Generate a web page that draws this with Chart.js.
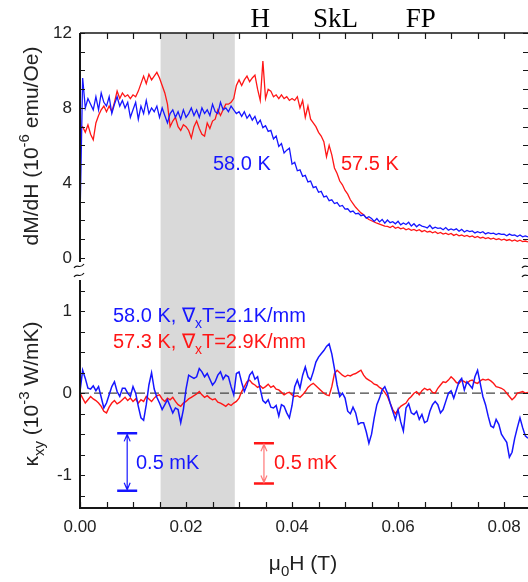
<!DOCTYPE html>
<html>
<head>
<meta charset="utf-8">
<script src="https://cdn.jsdelivr.net/npm/chart.js@4.4.1/dist/chart.umd.min.js"></script>
<style>
  html, body { margin: 0; padding: 0; background: #fff; overflow: hidden; }
  #wrap { position: relative; width: 528px; height: 582px; overflow: hidden; }
  canvas { position: absolute; left: 0; top: 0; }
</style>
</head>
<body>
<div id="wrap">
  <canvas id="topChart" width="540" height="582"></canvas>
  <canvas id="botChart" width="540" height="582"></canvas>
</div>
<script>
// field grid (mT), every 0.5 mT
const fieldMT = [
  0, 0.5, 1, 1.5, 2, 2.5, 3, 3.5, 4, 4.5,
  5, 5.5, 6, 6.5, 7, 7.5, 8, 8.5, 9, 9.5,
  10, 10.5, 11, 11.5, 12, 12.5, 13, 13.5, 14, 14.5,
  15, 15.5, 16, 16.5, 17, 17.5, 18, 18.5, 19, 19.5,
  20, 20.5, 21, 21.5, 22, 22.5, 23, 23.5, 24, 24.5,
  25, 25.5, 26, 26.5, 27, 27.5, 28, 28.5, 29, 29.5,
  30, 30.5, 31, 31.5, 32, 32.5, 33, 33.5, 34, 34.5,
  35, 35.5, 36, 36.5, 37, 37.5, 38, 38.5, 39, 39.5,
  40, 40.5, 41, 41.5, 42, 42.5, 43, 43.5, 44, 44.5,
  45, 45.5, 46, 46.5, 47, 47.5, 48, 48.5, 49, 49.5,
  50, 50.5, 51, 51.5, 52, 52.5, 53, 53.5, 54, 54.5,
  55, 55.5, 56, 56.5, 57, 57.5, 58, 58.5, 59, 59.5,
  60, 60.5, 61, 61.5, 62, 62.5, 63, 63.5, 64, 64.5,
  65, 65.5, 66, 66.5, 67, 67.5, 68, 68.5, 69, 69.5,
  70, 70.5, 71, 71.5, 72, 72.5, 73, 73.5, 74, 74.5,
  75, 75.5, 76, 76.5, 77, 77.5, 78, 78.5, 79, 79.5,
  80, 80.5, 81, 81.5, 82, 82.5, 83, 83.5, 84, 84.5
];

// dM/dH (10^-6 emu/Oe)
const dmdh58 = [
  2.0, 9.6, 8.0, 8.5, 8.2, 7.9, 8.6, 7.9, 8.8, 8.3,
  8.1, 8.6, 7.7, 8.2, 8.6, 8.1, 8.4, 8.0, 8.3, 7.5,
  7.9, 8.3, 7.4, 8.1, 7.7, 8.4, 7.7, 8.0, 7.8, 8.1,
  7.5, 8.0, 7.6, 7.2, 7.7, 7.9, 7.5, 7.8, 7.4, 7.9,
  7.5, 7.7, 8.0, 7.6, 7.9, 7.5, 8.0, 7.7, 7.9, 7.6,
  8.2, 7.8, 7.7, 8.3, 7.9, 8.0, 7.8, 8.1, 7.9, 7.7,
  7.8, 7.55, 7.8, 7.45, 7.65, 7.35, 7.55, 7.15, 7.35, 6.95,
  7.05, 6.75, 6.8, 6.35, 6.5, 5.95, 6.1, 5.6, 5.75, 5.85,
  5.0, 5.1, 4.65, 4.7, 4.35, 4.4, 4.05, 4.1, 3.75, 3.8,
  3.5, 3.55, 3.25, 3.3, 3.05, 3.1, 2.9, 2.95, 2.75, 2.8,
  2.6, 2.62, 2.45, 2.5, 2.35, 2.38, 2.25, 2.3, 2.12, 2.2,
  2.1, 1.95, 2.1, 1.92, 2.05, 1.85, 2.02, 1.88, 1.93, 1.82,
  1.95, 1.76, 1.86, 1.78, 1.9, 1.7, 1.82, 1.66, 1.78, 1.7,
  1.66, 1.6, 1.74, 1.56, 1.64, 1.58, 1.6, 1.5, 1.62, 1.48,
  1.54, 1.48, 1.55, 1.42, 1.52, 1.38, 1.46, 1.4, 1.44, 1.33,
  1.4, 1.34, 1.4, 1.28, 1.35, 1.3, 1.32, 1.24, 1.3, 1.25,
  1.26, 1.18, 1.27, 1.2, 1.22, 1.14, 1.22, 1.12, 1.17, 1.12
];
const dmdh575 = [
  6.9, 7.0, 6.7, 7.1, 6.6, 6.3, 7.2, 7.6, 7.9, 8.1,
  7.8, 8.1, 7.8, 8.3, 8.9, 8.5, 8.8, 8.6, 8.7, 8.5,
  8.7, 8.6, 8.9, 9.3, 9.7, 9.3, 9.8, 9.5, 9.7, 9.9,
  9.6, 9.2, 8.8, 8.2, 7.0, 7.3, 7.5, 7.0, 6.8, 7.1,
  7.0, 6.8, 6.4, 7.0, 7.3, 6.9, 6.6, 6.5, 7.2, 6.9,
  7.3, 7.4, 7.9, 7.6, 7.9, 8.2, 8.2, 8.3, 8.5, 9.2,
  9.5, 9.2, 9.5, 9.7, 9.4, 9.6, 9.75, 9.0, 8.4, 10.5,
  8.5, 9.0, 8.9, 8.6, 8.7, 8.5, 8.7, 8.5, 8.6, 8.4,
  8.5, 8.4, 8.6, 8.0, 8.4, 7.5, 8.1, 7.4, 7.2, 7.0,
  6.7, 6.5, 6.2, 5.4, 6.0, 5.5, 4.8, 4.5, 4.1, 3.9,
  3.6, 3.4, 3.1, 2.9, 2.7, 2.55, 2.4, 2.3, 2.15, 2.05,
  1.98, 1.92, 1.85, 1.8, 1.75, 1.7, 1.68, 1.62, 1.7, 1.58,
  1.64, 1.55, 1.6, 1.5, 1.56, 1.47, 1.52, 1.44, 1.5, 1.4,
  1.46, 1.38, 1.42, 1.34, 1.4, 1.3, 1.36, 1.27, 1.32, 1.24,
  1.3, 1.2, 1.26, 1.18, 1.22, 1.15, 1.2, 1.12, 1.17, 1.08,
  1.14, 1.06, 1.1, 1.03, 1.08, 1.0, 1.05, 0.98, 1.02, 0.95,
  1.0, 0.93, 0.98, 0.9, 0.96, 0.88, 0.94, 0.87, 0.9, 0.86
];

// kappa_xy (10^-3 W/mK)
const kxy58 = [
  0.02, 0.28, 0.18, 0.06, 0.05, 0.09, 0.03, 0.08, -0.05, -0.18,
  -0.12, -0.02, 0.08, 0.14, 0.02, -0.04, 0.06, 0.06, 0.0, -0.04,
  0.08, 0.0, -0.16, -0.3, -0.33, -0.14, 0.1, 0.25, 0.05, -0.05,
  -0.12, -0.2, -0.14, -0.08, -0.16, -0.24, -0.18, -0.2, -0.36, -0.2,
  0.05, 0.22, 0.2, 0.18, 0.2, 0.3, 0.26, 0.2, 0.24, 0.17,
  0.1, 0.14, 0.22, 0.26, 0.17, 0.22, 0.2, 0.08, -0.02, 0.24,
  0.26, 0.13, 0.02, 0.1, 0.22, 0.26, 0.17, 0.2, 0.05, -0.09,
  -0.12, -0.08, -0.17, -0.18, -0.15, -0.28, -0.14, -0.16, -0.24, -0.3,
  -0.15, 0.08, 0.16, 0.06, 0.22, 0.32, 0.2, 0.16, 0.26, 0.38,
  0.44, 0.48, 0.52, 0.57, 0.6, 0.48, 0.3, 0.1, -0.04, 0.0,
  -0.06, -0.22, -0.25, -0.17, -0.24, -0.38, -0.36, -0.36, -0.47, -0.61,
  -0.5, -0.3, -0.14, -0.06, 0.04, 0.08, 0.0, -0.12, -0.22, -0.32,
  -0.2, -0.35, -0.46, -0.18, -0.13, -0.24, -0.26, -0.22, -0.32, -0.26,
  -0.36, -0.34, -0.22, -0.14, -0.1, -0.14, -0.24, -0.2, -0.1, 0.0,
  0.03, -0.06, 0.04, 0.14, 0.18, 0.04, 0.14, 0.1, 0.06, 0.2,
  0.28, 0.12, -0.04, -0.14, -0.28, -0.4, -0.42, -0.32, -0.38, -0.5,
  -0.55, -0.6, -0.78, -0.72, -0.55, -0.42, -0.3, -0.42, -0.52, -0.55
];
const kxy573 = [
  0.0, -0.06, -0.12, -0.08, -0.04, -0.07, -0.09, -0.12, -0.16, -0.22,
  -0.24, -0.17, -0.12, -0.09, -0.13, -0.11, -0.08, -0.05, -0.09, -0.06,
  -0.1, -0.07, -0.12, -0.08, -0.1, -0.04, -0.07, -0.1, -0.06, -0.03,
  -0.02, -0.07, -0.1, -0.06, -0.08, -0.05, -0.1, -0.14, -0.16, -0.12,
  -0.1, -0.07, -0.05, -0.03, -0.01, 0.02, -0.02, -0.05, -0.03, -0.06,
  -0.08, -0.07, -0.11, -0.12, -0.14, -0.16, -0.13, -0.15, -0.12, -0.1,
  -0.06, 0.02, 0.08, 0.14, 0.16, 0.12, 0.1, 0.07, 0.09, 0.06,
  0.08, 0.11, 0.07, 0.09, 0.05, 0.04, 0.01, -0.02, 0.0, 0.01,
  -0.02, -0.04, -0.03, -0.05, -0.02, 0.02, 0.07, 0.1, 0.12, 0.09,
  0.06, 0.03, 0.0, -0.02, -0.03, 0.08, 0.24, 0.28, 0.25, 0.22,
  0.2, 0.22, 0.21, 0.23, 0.24, 0.26, 0.28, 0.22, 0.18, 0.16,
  0.14, 0.11, 0.1, 0.07, 0.05, 0.01, -0.04, -0.12, -0.2, -0.25,
  -0.2, -0.16, -0.14, -0.12, -0.07, -0.04, 0.0, 0.02, -0.02, 0.03,
  0.06, 0.04, 0.05, 0.01, 0.0, 0.06, 0.1, 0.14, 0.13, 0.16,
  0.2, 0.17, 0.13, 0.12, 0.16, 0.14, 0.12, 0.15, 0.16, 0.13,
  0.12, 0.15, 0.17, 0.16, 0.17, 0.15, 0.12, 0.08, 0.07, 0.06,
  0.04, 0.0, -0.04, -0.08, -0.05, 0.0, 0.01, 0.02, 0.0, 0.01
];

const zeroLineX = [0, 0.0847];
const zeroLineY = [0, 0];
const shadedBand = [0.0152, 0.0292];   // grey field window (T)
const phaseNames = ['H', 'SkL', 'FP'];
const phaseAt = [0.034, 0.0482, 0.0643];
// scale bars: x, top, bottom (in kappa units)
const barBlue = [0.0089, -0.49, -1.19];
const barRed = [0.0347, -0.61, -1.10];

const XMAX = 0.0847;
const FONT = '"Liberation Sans", Arial, Helvetica, sans-serif';
const SERIF = '"Liberation Serif", "Times New Roman", serif';
const BLUE = 'rgb(22,22,255)';
const RED = 'rgb(255,22,22)';
const INK = '#161616';

function pts(ys) {
  return fieldMT.map((f, i) => ({ x: f / 1000, y: ys[i] }));
}

// text with sub/superscripts: parts = [[text, 'n'|'sub'|'sup'], ...]
function rich(ctx, parts, x, y, size, color, align) {
  const sizes = parts.map(p => p[1] === 'n' ? size : Math.round(size * 0.7));
  const widths = parts.map((p, i) => {
    ctx.font = sizes[i] + 'px ' + FONT;
    return ctx.measureText(p[0]).width;
  });
  const total = widths.reduce((a, b) => a + b, 0);
  let cx = align === 'center' ? x - total / 2 : x;
  ctx.fillStyle = color;
  ctx.textAlign = 'left';
  ctx.textBaseline = 'alphabetic';
  parts.forEach((p, i) => {
    ctx.font = sizes[i] + 'px ' + FONT;
    const dy = p[1] === 'sup' ? -0.42 * size : (p[1] === 'sub' ? 0.3 * size : 0);
    ctx.fillText(p[0], cx, y + dy);
    cx += widths[i];
  });
}

function tilde(ctx, x, y) {
  ctx.beginPath();
  ctx.moveTo(x - 5, y + 2);
  ctx.bezierCurveTo(x - 2, y - 3, x + 1, y + 4, x + 5, y - 2);
  ctx.stroke();
}

function band(chart) {
  const { ctx, chartArea: a, scales: { x } } = chart;
  const x0 = x.getPixelForValue(shadedBand[0]);
  const x1 = x.getPixelForValue(shadedBand[1]);
  ctx.save();
  ctx.fillStyle = '#d9d9d9';
  ctx.fillRect(x0, a.top, x1 - x0, a.bottom - a.top);
  ctx.restore();
}

function xTicks(ctx, x, yPix, dir) {
  for (let i = 0; i * 0.005 <= XMAX; i++) {
    const px = Math.round(x.getPixelForValue(i * 0.005)) + 0.5;
    ctx.beginPath();
    ctx.moveTo(px, yPix);
    ctx.lineTo(px, yPix + dir * 6);
    ctx.stroke();
  }
}

function yTicks(ctx, y, a, from, to, step) {
  for (let v = from; v <= to + 1e-9; v += step) {
    const py = Math.round(y.getPixelForValue(v)) + 0.5;
    ctx.beginPath();
    ctx.moveTo(a.left, py); ctx.lineTo(a.left + 5, py);
    ctx.moveTo(a.right, py); ctx.lineTo(a.right - 6, py);
    ctx.stroke();
  }
}

function bar(ctx, x, y, b, color, shaft) {
  const px = x.getPixelForValue(b[0]);
  const p0 = y.getPixelForValue(b[1]);
  const p1 = y.getPixelForValue(b[2]);
  ctx.save();
  ctx.strokeStyle = color;
  ctx.lineWidth = 2.5;
  ctx.beginPath();
  ctx.moveTo(px - 10, p0); ctx.lineTo(px + 10, p0);
  ctx.moveTo(px - 10, p1); ctx.lineTo(px + 10, p1);
  ctx.stroke();
  ctx.strokeStyle = shaft;
  ctx.lineWidth = 1.2;
  ctx.beginPath();
  ctx.moveTo(px, p0 + 1); ctx.lineTo(px, p1 - 1);
  ctx.moveTo(px - 3, p0 + 8); ctx.lineTo(px, p0 + 1); ctx.lineTo(px + 3, p0 + 8);
  ctx.moveTo(px - 3, p1 - 8); ctx.lineTo(px, p1 - 1); ctx.lineTo(px + 3, p1 - 8);
  ctx.stroke();
  ctx.restore();
}

const topFrame = {
  id: 'topFrame',
  beforeDatasetsDraw: band,
  afterDraw(chart) {
    const { ctx, chartArea: a, scales: { x, y } } = chart;
    ctx.save();
    ctx.strokeStyle = INK;
    ctx.lineWidth = 1.5;
    ctx.beginPath();
    ctx.moveTo(a.left, a.top); ctx.lineTo(a.right, a.top);
    ctx.stroke();
    ctx.lineWidth = 2;
    ctx.beginPath();
    ctx.moveTo(a.left, a.top); ctx.lineTo(a.left, a.bottom - 9);
    ctx.moveTo(a.right, a.top); ctx.lineTo(a.right, a.bottom - 9);
    ctx.stroke();
    ctx.lineWidth = 1.2;
    xTicks(ctx, x, a.top, 1);
    yTicks(ctx, y, a, 0, 12, 1);
    // axis break marks
    ctx.lineWidth = 1.2;
    [a.left - 1, a.right - 2].forEach(bx => {
      tilde(ctx, bx, a.bottom - 5);
      tilde(ctx, bx, a.bottom + 4);
    });
    // phase labels
    ctx.fillStyle = '#000';
    ctx.font = '27px ' + SERIF;
    ctx.textAlign = 'center';
    ctx.textBaseline = 'alphabetic';
    phaseNames.forEach((n, i) => ctx.fillText(n, x.getPixelForValue(phaseAt[i]), 27));
    // curve labels
    ctx.font = '20px ' + FONT;
    ctx.textAlign = 'left';
    ctx.fillStyle = BLUE;
    ctx.fillText('58.0 K', 213, 170);
    ctx.fillStyle = RED;
    ctx.fillText('57.5 K', 341, 170);
    // y title
    ctx.translate(38, 146);
    ctx.rotate(-Math.PI / 2);
    rich(ctx, [['dM/dH (10', 'n'], ['-6', 'sup'], [' emu/Oe)', 'n']], 0, 0, 21, '#222', 'center');
    ctx.restore();
  }
};

const botFrame = {
  id: 'botFrame',
  beforeDatasetsDraw: band,
  afterDraw(chart) {
    const { ctx, chartArea: a, scales: { x, y } } = chart;
    ctx.save();
    ctx.strokeStyle = INK;
    ctx.lineWidth = 2;
    ctx.beginPath();
    ctx.moveTo(a.left, a.top + 9); ctx.lineTo(a.left, a.bottom);
    ctx.lineTo(a.right, a.bottom);
    ctx.moveTo(a.right, a.top + 9); ctx.lineTo(a.right, a.bottom);
    ctx.stroke();
    ctx.lineWidth = 1.2;
    xTicks(ctx, x, a.bottom, -1);
    yTicks(ctx, y, a, -1.25, 1.25, 0.25);
    // scale bars
    bar(ctx, x, y, barBlue, BLUE, BLUE);
    bar(ctx, x, y, barRed, RED, 'rgb(255,120,120)');
    ctx.font = '20px ' + FONT;
    ctx.textAlign = 'left';
    ctx.textBaseline = 'alphabetic';
    ctx.fillStyle = BLUE;
    ctx.fillText('0.5 mK', 136, 469);
    ctx.fillStyle = RED;
    ctx.fillText('0.5 mK', 274, 469);
    // legend lines
    rich(ctx, [['58.0 K, \u2207', 'n'], ['x', 'sub'], ['T=2.1K/mm', 'n']], 113, 322, 20, BLUE, 'left');
    rich(ctx, [['57.3 K, \u2207', 'n'], ['x', 'sub'], ['T=2.9K/mm', 'n']], 113, 348, 20, RED, 'left');
    // x title
    rich(ctx, [['\u03bc', 'n'], ['0', 'sub'], ['H (T)', 'n']], 303, 570, 21, '#222', 'center');
    // y title
    ctx.translate(38, 394);
    ctx.rotate(-Math.PI / 2);
    rich(ctx, [['\u03ba', 'n'], ['xy', 'sub'], [' (10', 'n'], ['-3', 'sup'], [' W/mK)', 'n']], 0, 0, 21, '#222', 'center');
    ctx.restore();
  }
};

const tickFont = { family: FONT, size: 17 };

new Chart(document.getElementById('topChart'), {
  type: 'line',
  data: {
    datasets: [
      { label: '58.0 K', data: pts(dmdh58), borderColor: BLUE, borderWidth: 1.3 },
      { label: '57.5 K', data: pts(dmdh575), borderColor: RED, borderWidth: 1.3 }
    ]
  },
  options: {
    responsive: false,
    animation: false,
    layout: { padding: { left: 0, top: 33, right: 11, bottom: 311 } },
    elements: { point: { radius: 0 }, line: { tension: 0 } },
    plugins: { legend: { display: false }, tooltip: { enabled: false } },
    scales: {
      x: { type: 'linear', display: false, min: 0, max: XMAX },
      y: {
        min: -0.7, max: 12,
        grid: { display: false, drawTicks: false },
        border: { display: false },
        ticks: { stepSize: 4, includeBounds: false, font: tickFont, color: '#222', padding: 8 },
        afterFit: s => { s.width = 80; }
      }
    }
  },
  plugins: [topFrame]
});

new Chart(document.getElementById('botChart'), {
  type: 'line',
  data: {
    datasets: [
      { label: '58.0 K', data: pts(kxy58), borderColor: BLUE, borderWidth: 1.5 },
      { label: '57.3 K', data: pts(kxy573), borderColor: RED, borderWidth: 1.4 },
      {
        label: 'zero', data: zeroLineX.map((v, i) => ({ x: v, y: zeroLineY[i] })),
        borderColor: '#444', borderWidth: 1.2, borderDash: [9, 5]
      }
    ]
  },
  options: {
    responsive: false,
    animation: false,
    layout: { padding: { left: 0, top: 271, right: 11, bottom: 0 } },
    elements: { point: { radius: 0 }, line: { tension: 0 } },
    plugins: { legend: { display: false }, tooltip: { enabled: false } },
    scales: {
      x: {
        type: 'linear', min: 0, max: XMAX,
        grid: { display: false, drawTicks: false },
        border: { display: false },
        ticks: {
          stepSize: 0.02, includeBounds: false, autoSkip: false, maxRotation: 0,
          font: tickFont, color: '#222', padding: 9,
          callback: v => v.toFixed(2)
        },
        afterFit: s => { s.height = 74; }
      },
      y: {
        min: -1.4, max: 1.49,
        grid: { display: false, drawTicks: false },
        border: { display: false },
        ticks: { stepSize: 1, includeBounds: false, font: tickFont, color: '#222', padding: 8 },
        afterFit: s => { s.width = 80; }
      }
    }
  },
  plugins: [botFrame]
});
</script>
</body>
</html>
